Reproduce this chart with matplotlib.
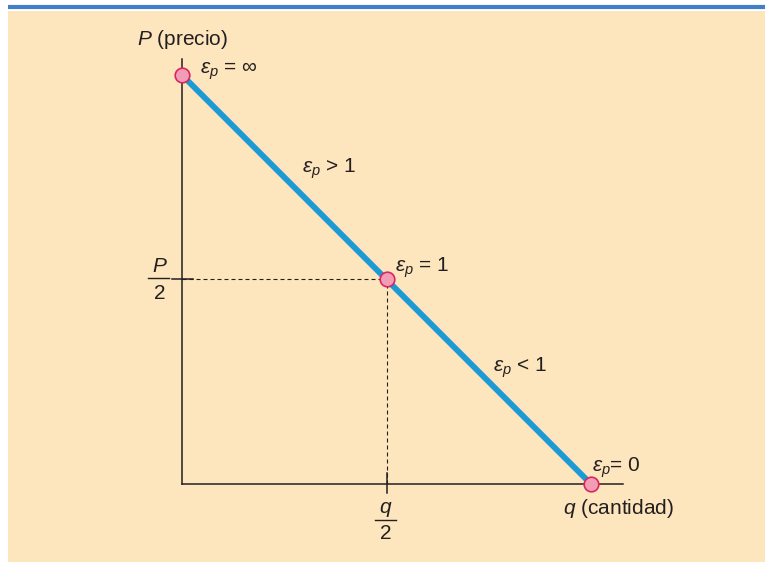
import numpy as np
import matplotlib.pyplot as plt
from matplotlib.patches import Rectangle
from matplotlib.lines import Line2D

plt.rcParams['font.family'] = ['Liberation Sans', 'DejaVu Sans']
plt.rcParams['mathtext.fontset'] = 'custom'
plt.rcParams['mathtext.rm'] = 'Liberation Sans'
plt.rcParams['mathtext.it'] = 'Liberation Sans:italic'

# -----------------------------
# data: linear demand P = 1 - q (normalised)
# -----------------------------
demand_q = [0.0, 1.0]
demand_p = [1.0, 0.0]

point_q = [0.0, 0.5, 1.0]
point_p = [1.0, 0.5, 0.0]
point_labels = [r'$\varepsilon_p$ = ∞', r'$\varepsilon_p$ = 1', r'$\varepsilon_p$= 0']

region_labels = [r'$\varepsilon_p$ > 1', r'$\varepsilon_p$ < 1']

mid_q = 0.5
mid_p = 0.5

# -----------------------------
# colours
# -----------------------------
bg = '#FDE5BD'
top_blue = '#3F80C6'
curve_blue = '#1B9AD6'
dot_fill = '#F29DB5'
dot_edge = '#D8275F'
ink = '#231F20'

# figure 765x562, origin of chart at pixel (182, 484), 409 px per unit
W, H = 765, 562
ox, oy, unit = 182, 484, 409

fig = plt.figure(figsize=(W / 100, H / 100), dpi=100)
fig.patches.append(Rectangle((8 / W, 0), 1, (H - 11) / H, transform=fig.transFigure,
                             facecolor=bg, edgecolor='none', zorder=0))
fig.lines.append(Line2D([8 / W, 1], [1 - 7 / H, 1 - 7 / H], transform=fig.transFigure,
                        color=top_blue, lw=3.0, solid_capstyle='butt'))

ax = fig.add_axes([0, 0, 1, 1])
ax.set_zorder(5)
ax.set_xlim(-ox / unit, (W - ox) / unit)
ax.set_ylim(-(H - oy) / unit, oy / unit)
ax.axis('off')
ax.patch.set_alpha(0)


def px(x, y):
    return (x - ox) / unit, (oy - y) / unit


# axes
ax.plot([0, 0], [0, 1.04], color=ink, lw=1.1, zorder=2)
ax.plot([0, 1.078], [0, 0], color=ink, lw=1.1, zorder=2)

# ticks at P/2 and q/2
ax.plot([-0.025, 0.027], [mid_p, mid_p], color=ink, lw=1.1, zorder=2)
ax.plot([mid_q, mid_q], [-0.022, 0.027], color=ink, lw=1.1, zorder=2)

# dashed guides
ax.plot([0, mid_q], [mid_p, mid_p], color=ink, lw=0.8, ls=(0, (3.6, 2.7)), zorder=2)
ax.plot([mid_q, mid_q], [0, mid_p], color=ink, lw=0.8, ls=(0, (3.6, 2.7)), zorder=2)

# demand line and points
ax.plot(demand_q, demand_p, color=curve_blue, lw=4.2, solid_capstyle='butt', zorder=3)
ax.plot(point_q, point_p, 'o', ms=10.5, mfc=dot_fill, mec=dot_edge, mew=1.2, zorder=4)

fs = 15

# point labels
for (lx, ly), txt in zip([(200, 74), (395, 272), (592, 472)], point_labels):
    ax.text(*px(lx, ly), txt, fontsize=fs, color=ink, ha='left', va='baseline')

# region labels
for (lx, ly), txt in zip([(302, 173), (493, 372)], region_labels):
    ax.text(*px(lx, ly), txt, fontsize=fs, color=ink, ha='left', va='baseline')

# axis titles
ax.text(*px(183, 45), r'$P$ (precio)', fontsize=fs, color=ink, ha='center', va='baseline')
ax.text(*px(563, 514), r'$q$ (cantidad)', fontsize=fs, color=ink, ha='left', va='baseline')

# fractions P/2 and q/2
ax.text(*px(160, 272), r'$P$', fontsize=fs, color=ink, ha='center', va='baseline')
ax.plot(*zip(px(148, 278), px(169, 278)), color=ink, lw=1.0)
ax.text(*px(160, 299), '2', fontsize=fs, color=ink, ha='center', va='baseline')

ax.text(*px(386, 513), r'$q$', fontsize=fs, color=ink, ha='center', va='baseline')
ax.plot(*zip(px(375, 520), px(396, 520)), color=ink, lw=1.0)
ax.text(*px(386, 539), '2', fontsize=fs, color=ink, ha='center', va='baseline')

fig.savefig('out.png', dpi=100, facecolor='white')
